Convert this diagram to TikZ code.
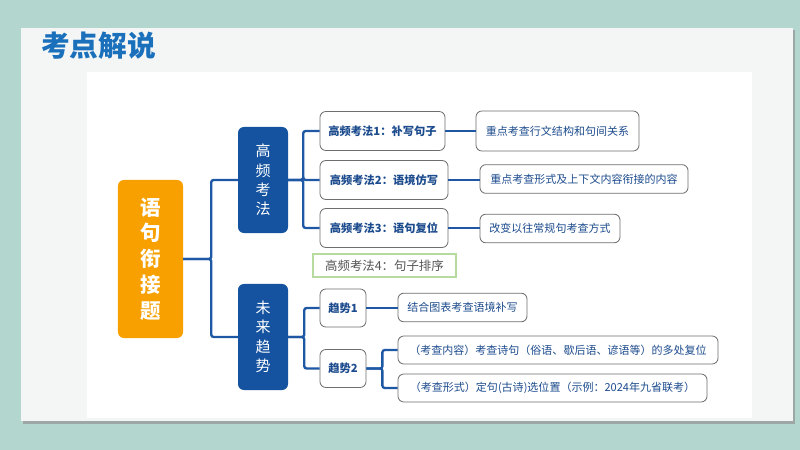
\documentclass[tikz,border=0pt]{standalone}
\usepackage{fontspec}
\setmainfont{Noto Sans CJK SC}
\usepackage{tikz}
\usetikzlibrary{arrows.meta,positioning,calc}
\definecolor{Teal}{HTML}{B3D7CF}
\definecolor{Panel}{HTML}{F4F6F6}
\definecolor{Shade}{HTML}{9DA8A6}
\definecolor{Orange}{HTML}{F7A000}
\definecolor{Navy}{HTML}{1553A0}
\definecolor{Link}{HTML}{1E58A5}
\definecolor{Ink}{HTML}{1D4C8E}
\definecolor{Frame}{HTML}{6E6E6E}
\definecolor{Title}{HTML}{1A70BB}
\definecolor{Green}{HTML}{B7DA9E}
\definecolor{Muted}{HTML}{555555}
\tikzset{
  root/.style={fill=Orange,rounded corners=5pt,minimum width=1.95cm,minimum height=4.74cm,align=center,text=white,font=\fontsize{17.5}{22}\selectfont\bfseries},
  branch/.style={fill=Navy,rounded corners=5pt,minimum width=1.5cm,minimum height=3.18cm,align=center,text=white,font=\fontsize{12.8}{16.6}\selectfont},
  method/.style={draw=Frame,fill=white,line width=.7pt,rounded corners=5pt,minimum height=1.17cm,align=center,text=Ink,font=\fontsize{9.6}{11}\selectfont\bfseries},
  note/.style={draw=Frame,fill=white,line width=.7pt,rounded corners=5pt,minimum height=.86cm,align=center,text=Ink,font=\fontsize{9.4}{11}\selectfont},
  extra/.style={draw=Green,fill=white,line width=1.2pt,minimum width=4.29cm,minimum height=.69cm,align=center,text=Muted,font=\fontsize{10.6}{12}\selectfont},
  link/.style={draw=Link,line width=2pt,rounded corners=2pt},
}

\begin{document}
\begin{tikzpicture}[x=.03cm,y=-.03cm]
  \useasboundingbox (0,0) rectangle (800,450);
  \fill[Teal] (0,0) rectangle (800,450);
  \fill[Shade] (23,30) rectangle (795,424);
  \fill[Panel] (21,28) rectangle (793,421);
  \fill[white] (87,72) rectangle (752,418);
  \node[anchor=west,text=Title,font=\fontsize{24.5}{28}\selectfont\bfseries] (title) at (37,46) {考点解说};

  \node[root] (topic) at (150.5,259) {语\\句\\衔\\接\\题};
  \node[branch] (freq) at (263,180) {高\\频\\考\\法};
  \node[branch] (trend) at (263,337) {未\\来\\趋\\势};

  \node[method,minimum width=3.75cm] (m1) at (382.5,131) {高频考法1：补写句子};
  \node[method,minimum width=3.84cm] (m2) at (384,180) {高频考法2：语境仿写};
  \node[method,minimum width=3.84cm] (m3) at (384,228) {高频考法3：语句复位};
  \node[note,minimum width=4.89cm,minimum height=1.2cm] (d1) at (557.5,131) {重点考查行文结构和句间关系};
  \node[note,minimum width=6.24cm] (d2) at (584,179) {重点考查形式及上下文内容衔接的内容};
  \node[note,minimum width=4.2cm] (d3) at (550,228.5) {改变以往常规句考查方式};
  \node[extra] (m4) at (384.5,265.5) {高频考法4：句子排序};

  \node[method,minimum width=1.38cm,minimum height=1.14cm] (t1) at (343,308) {趋势1};
  \node[method,minimum width=1.38cm,minimum height=1.14cm] (t2) at (343,368.5) {趋势2};
  \node[note,minimum width=3.87cm] (e1) at (462.5,307.5) {结合图表考查语境补写};
  \node[note,minimum width=9.6cm,minimum height=.84cm] (e2) at (558,350) {（考查内容）考查诗句（俗语、歇后语、谚语等）的多处复位};
  \node[note,minimum width=9.27cm,minimum height=.84cm] (e3) at (552.5,388) {（考查形式）定句(古诗)选位置（示例：2024年九省联考）};

  \draw[link] (topic.east) -- ++(28,0) |- (freq.west);
  \draw[link] (topic.east) -- ++(28,0) |- (trend.west);
  \foreach \m in {m1,m2,m3}
    \draw[link] (freq.east) -- ++(15,0) |- (\m.west);
  \foreach \t in {t1,t2}
    \draw[link] (trend.east) -- ++(16,0) |- (\t.west);
  \draw[link] (t2.east) -- ++(16,0) |- (e2.west);
  \draw[link] (t2.east) -- ++(16,0) |- (e3.west);
  \draw[link] (m1.east) -- (m1.east -| d1.west);
  \draw[link] (m2.east) -- (m2.east -| d2.west);
  \draw[link] (m3.east) -- (m3.east -| d3.west);
  \draw[link] (t1.east) -- (t1.east -| e1.west);
\end{tikzpicture}
\end{document}
